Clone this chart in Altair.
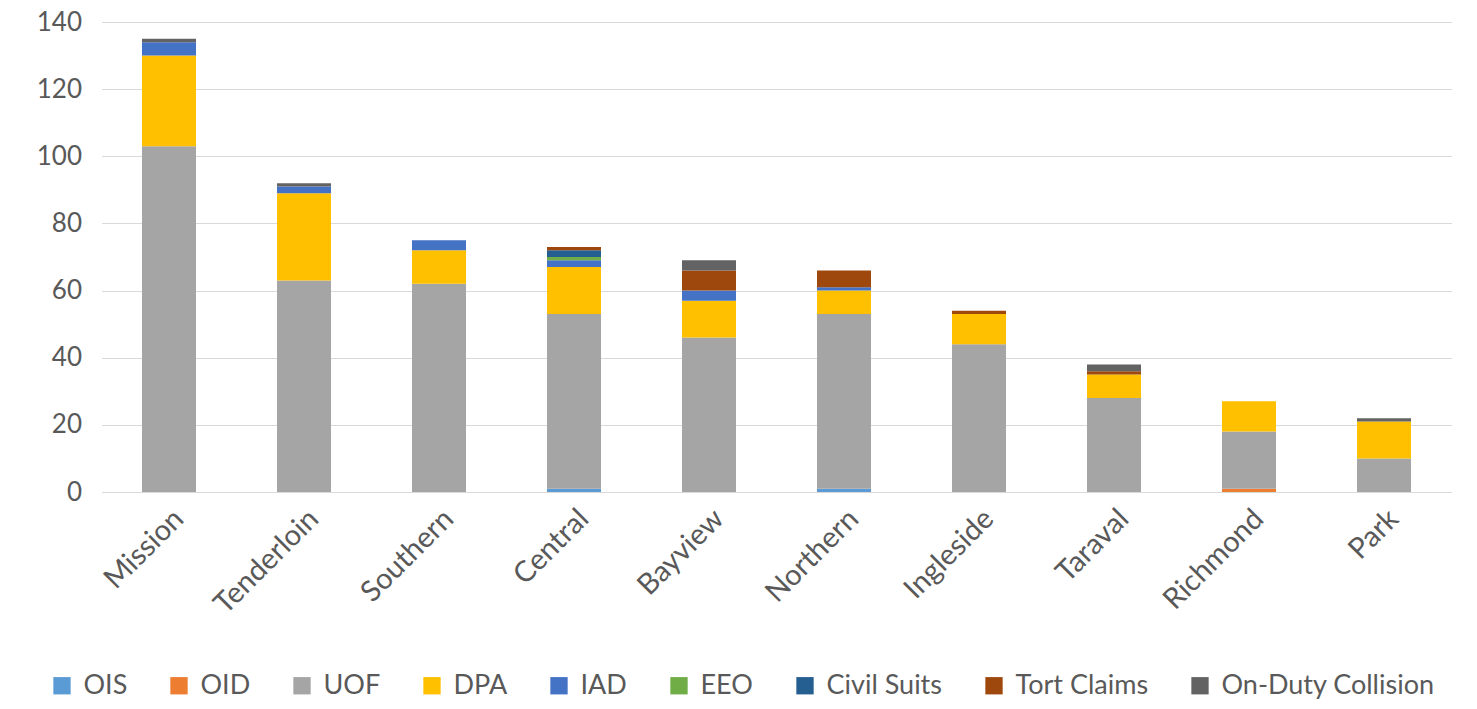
import altair as alt
import pandas as pd

districts = ["Mission", "Tenderloin", "Southern", "Central", "Bayview",
             "Northern", "Ingleside", "Taraval", "Richmond", "Park"]
series = ["OIS", "OID", "UOF", "DPA", "IAD", "EEO", "Civil Suits",
          "Tort Claims", "On-Duty Collision"]
colors = ["#5B9BD5", "#ED7D31", "#A5A5A5", "#FFC000", "#4472C4",
          "#70AD47", "#255E91", "#9E480E", "#636363"]

ois = [0, 0, 0, 1, 0, 1, 0, 0, 0, 0]
oid = [0, 0, 0, 0, 0, 0, 0, 0, 1, 0]
uof = [103, 63, 62, 52, 46, 52, 44, 28, 17, 10]
dpa = [27, 26, 10, 14, 11, 7, 9, 7, 9, 11]
iad = [4, 2, 3, 2, 3, 1, 0, 0, 0, 0]
eeo = [0, 0, 0, 1, 0, 0, 0, 0, 0, 0]
civil = [0, 0, 0, 2, 0, 0, 0, 0, 0, 0]
tort = [0, 0, 0, 1, 6, 5, 1, 1, 0, 0]
collision = [1, 1, 0, 0, 3, 0, 0, 2, 0, 1]

values = [ois, oid, uof, dpa, iad, eeo, civil, tort, collision]

rows = []
for si, (name, vals) in enumerate(zip(series, values)):
    for d, v in zip(districts, vals):
        rows.append({"district": d, "series": name, "value": v, "order": si})
df = pd.DataFrame(rows)

FONT = "Lato"
TXT = "#595959"

chart = alt.Chart(df).mark_bar().encode(
    x=alt.X("district:N", sort=districts, title=None,
            scale=alt.Scale(paddingInner=0.6, paddingOuter=0.3),
            axis=alt.Axis(labelAngle=-45, labelFontSize=29, labelFont=FONT,
                          labelColor=TXT, ticks=False, domainColor="#D9D9D9",
                          labelPadding=12, grid=False)),
    y=alt.Y("value:Q", stack="zero", title=None,
            scale=alt.Scale(domain=[0, 140], nice=False),
            axis=alt.Axis(values=[0, 20, 40, 60, 80, 100, 120, 140],
                          labelFontSize=26, labelFont=FONT, labelColor=TXT,
                          ticks=False, domain=False, gridColor="#D9D9D9",
                          labelPadding=20)),
    color=alt.Color("series:N", scale=alt.Scale(domain=series, range=colors),
                    title=None,
                    legend=alt.Legend(orient="none", direction="horizontal",
                                      legendX=-53, legendY=650,
                                      symbolType="square", symbolSize=300,
                                      symbolStrokeWidth=0, labelFontSize=27,
                                      labelFont=FONT, labelColor=TXT,
                                      labelOffset=8, columnPadding=38,
                                      labelLimit=400)),
    order=alt.Order("order:Q", sort="ascending"),
).properties(
    width=1350, height=470,
    background="white",
    autosize=alt.AutoSizeParams(type="none"),
    padding={"left": 93.5, "top": 14, "right": 17, "bottom": 208},
).configure_view(stroke=None)

chart.save("out.html", embed_options={"renderer": "svg", "actions": False})
